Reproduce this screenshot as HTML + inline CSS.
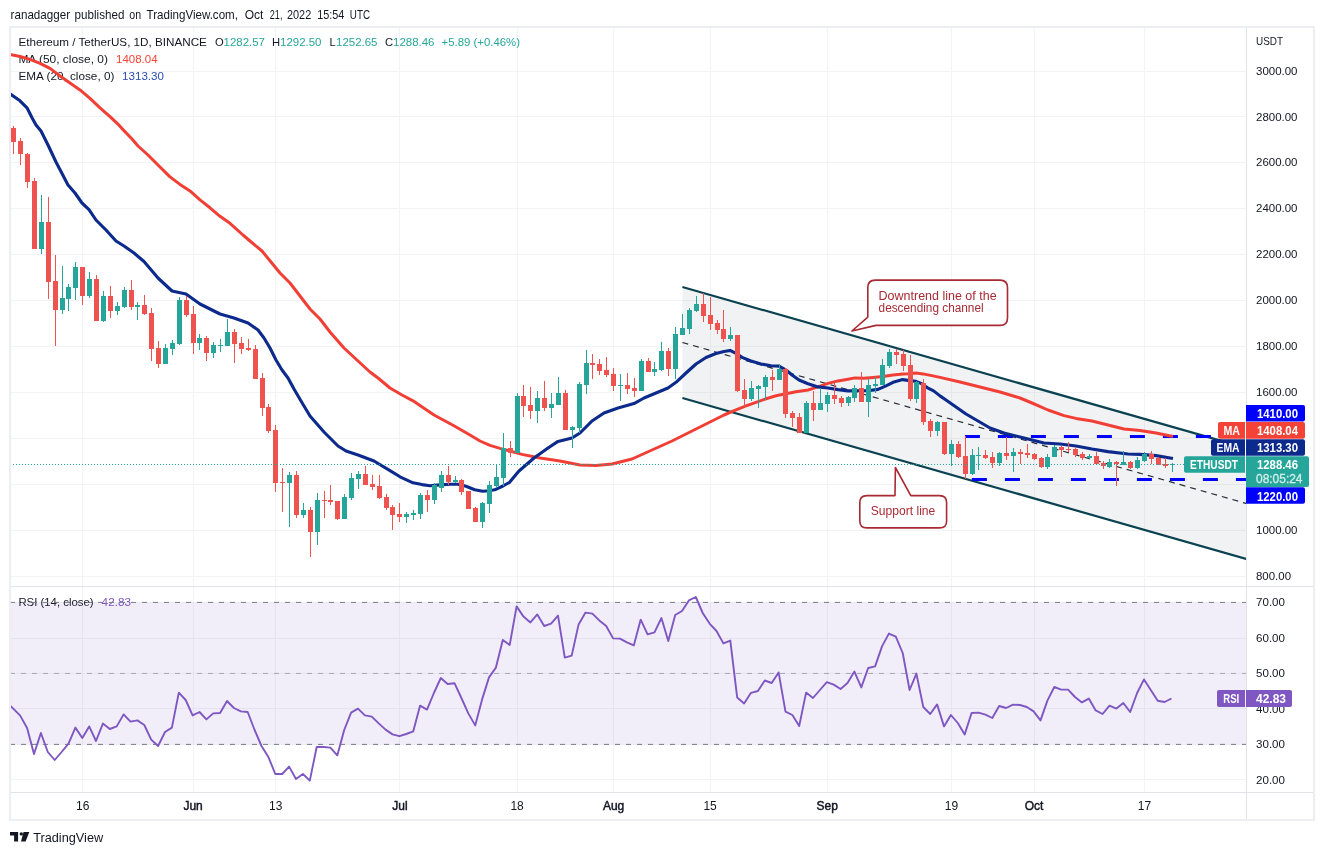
<!DOCTYPE html><html><head><meta charset="utf-8"><title>ETHUSDT chart</title><style>html,body{margin:0;padding:0;background:#fff}svg{display:block}</style></head><body><svg width="1324" height="855" viewBox="0 0 1324 855" font-family='"Liberation Sans", sans-serif' font-size="12" fill="#131722">
<rect width="1324" height="855" fill="#fff"/>
<text y="19" font-size="13" fill="#131722"><tspan x="10.6" textLength="59.5" lengthAdjust="spacingAndGlyphs">ranadagger</tspan> <tspan x="74.6" textLength="49.8" lengthAdjust="spacingAndGlyphs">published</tspan> <tspan x="129.3" textLength="11.8" lengthAdjust="spacingAndGlyphs">on</tspan> <tspan x="146.5" textLength="91.5" lengthAdjust="spacingAndGlyphs">TradingView.com,</tspan> <tspan x="244.7" textLength="18.7" lengthAdjust="spacingAndGlyphs">Oct</tspan> <tspan x="269.8" textLength="12.6" lengthAdjust="spacingAndGlyphs">21,</tspan> <tspan x="287" textLength="24.2" lengthAdjust="spacingAndGlyphs">2022</tspan> <tspan x="317.2" textLength="27.2" lengthAdjust="spacingAndGlyphs">15:54</tspan> <tspan x="349.8" textLength="20.2" lengthAdjust="spacingAndGlyphs">UTC</tspan></text>
<path d="M82.5 26V792M193.5 26V792M275.5 26V792M399.5 26V792M517.5 26V792M613.5 26V792M710.5 26V792M827.5 26V792M951.5 26V792M1034.5 26V792M1144.5 26V792M10 576.5H1247M10 530.5H1247M10 484.5H1247M10 438.5H1247M10 392.5H1247M10 346.5H1247M10 300.5H1247M10 254.5H1247M10 208.5H1247M10 162.5H1247M10 116.5H1247M10 71.5H1247M10 602.5H1247M10 638.5H1247M10 673.5H1247M10 708.5H1247M10 744.5H1247M10 779.5H1247" stroke="#f1f3f5" stroke-width="1" fill="none"/>
<text x="18.4" y="45.6" font-size="11.2" fill="#131722" textLength="188.5" lengthAdjust="spacingAndGlyphs" >Ethereum / TetherUS, 1D, BINANCE</text>
<text x="215" y="45.6" font-size="11.2" fill="#131722" >O</text>
<text x="223.5" y="45.6" font-size="11.2" fill="#26a69a" textLength="41.5" lengthAdjust="spacingAndGlyphs" >1282.57</text>
<text x="272" y="45.6" font-size="11.2" fill="#131722" >H</text>
<text x="280" y="45.6" font-size="11.2" fill="#26a69a" textLength="41.5" lengthAdjust="spacingAndGlyphs" >1292.50</text>
<text x="329.5" y="45.6" font-size="11.2" fill="#131722" >L</text>
<text x="336" y="45.6" font-size="11.2" fill="#26a69a" textLength="41.5" lengthAdjust="spacingAndGlyphs" >1252.65</text>
<text x="385" y="45.6" font-size="11.2" fill="#131722" >C</text>
<text x="393" y="45.6" font-size="11.2" fill="#26a69a" textLength="41.5" lengthAdjust="spacingAndGlyphs" >1288.46</text>
<text x="441.5" y="45.6" font-size="11.2" fill="#26a69a" textLength="78.5" lengthAdjust="spacingAndGlyphs" >+5.89 (+0.46%)</text>
<text x="18.4" y="62.6" font-size="11.2" fill="#131722" textLength="89.6" lengthAdjust="spacingAndGlyphs" >MA (50, close, 0)</text>
<text x="116" y="62.6" font-size="11.2" fill="#f44336" textLength="41.6" lengthAdjust="spacingAndGlyphs" >1408.04</text>
<text x="18.4" y="79.6" font-size="11.2" fill="#131722" textLength="96" lengthAdjust="spacingAndGlyphs" >EMA (20, close, 0)</text>
<text x="122" y="79.6" font-size="11.2" fill="#2a4db0" textLength="42" lengthAdjust="spacingAndGlyphs" >1313.30</text>
<text x="18.4" y="605.6" font-size="11.2" fill="#131722" textLength="75.2" lengthAdjust="spacingAndGlyphs" >RSI (14, close)</text>
<text x="101.6" y="605.6" font-size="11.2" fill="#7e57c2" textLength="29.4" lengthAdjust="spacingAndGlyphs" >42.83</text>
<clipPath id="mc"><rect x="10" y="26" width="1237" height="560"/></clipPath>
<g clip-path="url(#mc)">
<polygon points="682.4,287 1247,448.2 1247,559.2 682.4,398" fill="rgba(120,130,150,0.10)"/>
<path d="M682.4 287L1247 448.2M682.4 398L1247 559.2" stroke="#0b4250" stroke-width="2.2" fill="none"/>
<path d="M682.4 342.5L1247 503.7" stroke="#2a2e39" stroke-width="1.2" stroke-dasharray="6 5" fill="none"/>
<path d="M964.9 436.4H1247" stroke="#0000ff" stroke-width="3" stroke-dasharray="15 18" fill="none"/>
<path d="M971.9 479.6H1247" stroke="#0000ff" stroke-width="3" stroke-dasharray="15 18" fill="none"/>
<path d="M10.0 54.5L20.0 56.5L30.0 59.4L40.0 63.4L50.0 68.4L60.0 75.9L70.0 82.9L80.0 89.9L90.0 98.3L100.0 107.8L110.0 116.6L119.0 125.2L122.0 128.6L132.0 139.0L138.0 146.0L148.0 155.0L160.0 167.0L170.0 176.9L180.0 184.4L190.0 190.9L200.0 199.9L210.0 207.8L220.0 216.3L230.0 223.3L243.0 235.0L250.0 241.0L262.0 251.0L280.0 273.0L290.0 283.0L310.0 309.0L320.0 319.0L330.0 332.0L344.0 348.0L358.0 361.0L370.0 372.0L378.0 378.0L390.0 388.0L402.0 395.0L413.0 400.8L434.0 415.0L453.0 425.2L470.0 435.0L480.0 441.0L490.0 445.4L500.0 448.4L510.0 451.0L522.0 454.4L540.0 458.0L560.0 461.0L580.0 465.0L596.0 465.6L612.0 464.0L632.0 459.0L652.0 450.0L672.0 441.0L692.0 431.0L712.0 421.0L724.0 415.0L736.0 409.8L746.0 405.8L756.0 402.3L766.0 398.8L776.0 395.8L786.0 393.8L796.0 391.8L808.0 390.0L818.0 386.9L828.0 383.4L838.0 380.9L848.0 379.2L855.0 377.9L864.0 378.2L873.0 377.4L883.0 376.4L893.0 374.9L903.0 373.9L908.0 373.7L916.0 372.9L923.0 373.9L933.0 375.9L940.0 377.4L960.0 382.0L980.0 387.0L1000.0 392.0L1020.0 398.0L1032.0 403.0L1048.0 410.0L1064.0 415.6L1076.0 418.4L1092.0 421.0L1108.0 425.0L1124.0 429.0L1140.0 430.4L1156.0 433.0L1173.0 436.5" stroke="#f23f36" stroke-width="3" fill="none" stroke-linejoin="round" stroke-linecap="butt"/>
<path d="M10.0 93.8L20.0 100.8L27.0 107.8L32.0 117.8L36.0 125.0L41.0 131.0L48.0 145.0L56.0 162.0L68.0 185.0L75.0 193.0L82.0 203.0L89.0 209.6L96.0 220.0L106.0 230.0L116.0 241.0L124.0 246.0L134.0 253.0L144.0 261.5L158.0 278.0L172.0 291.0L186.0 294.0L200.0 304.0L220.0 314.0L234.0 318.0L248.0 323.0L258.0 330.0L264.0 338.0L270.0 348.0L276.0 360.0L282.0 370.0L288.0 378.0L294.0 389.0L301.0 401.0L310.0 416.0L324.0 432.0L338.0 446.0L346.0 451.0L358.0 455.0L374.0 461.0L390.0 470.6L400.0 476.8L413.0 482.8L422.0 484.6L430.0 485.8L440.0 484.9L450.0 484.3L458.0 484.3L466.0 486.3L474.7 489.8L482.7 491.3L489.0 490.8L494.7 489.8L503.0 486.0L509.6 482.3L515.6 474.9L519.0 471.0L534.0 458.0L548.0 448.0L558.0 441.4L572.0 438.0L580.0 433.0L592.0 421.0L604.0 413.0L618.0 408.0L634.0 403.6L644.0 398.0L656.0 393.0L668.0 388.0L676.0 382.3L686.0 373.0L696.0 364.0L706.0 357.5L716.0 353.5L724.0 351.5L730.0 350.4L736.0 353.4L742.0 357.4L751.0 361.0L761.0 364.0L771.0 365.7L779.0 366.1L786.0 370.0L792.0 375.0L799.0 380.0L808.0 383.7L818.0 386.9L828.0 388.0L838.0 389.6L848.0 390.9L858.0 390.7L868.0 390.7L878.0 389.4L886.0 385.9L894.0 381.9L902.7 379.6L908.0 380.4L916.0 381.4L921.0 383.4L927.6 387.9L933.6 390.9L940.0 395.9L946.0 400.0L956.0 407.0L966.0 414.0L978.0 421.0L990.0 428.0L1004.0 433.0L1020.0 437.0L1032.0 440.0L1044.0 443.0L1060.0 444.0L1076.0 446.0L1092.0 449.0L1108.0 451.6L1128.0 454.0L1140.0 454.4L1156.0 455.6L1173.0 458.5" stroke="#0c2a8c" stroke-width="3.1" fill="none" stroke-linejoin="round" stroke-linecap="butt"/>
<path d="M13 126h1v28h-1zM11 128h5v14h-5zM20 138h1v27h-1zM18 141h5v13h-5zM27 153h1v35h-1zM25 154h5v28h-5zM34 178h1v71h-1zM32 181h5v68h-5zM48 197h1v102h-1zM46 222h5v60h-5zM55 255h1v91h-1zM53 281h5v29h-5zM82 267h1v38h-1zM80 267h5v29h-5zM96 275h1v46h-1zM94 279h5v42h-5zM110 286h1v32h-1zM108 296h5v15h-5zM131 280h1v30h-1zM129 290h5v17h-5zM144 295h1v20h-1zM142 305h5v9h-5zM151 308h1v53h-1zM149 313h5v36h-5zM158 341h1v27h-1zM156 348h5v16h-5zM186 296h1v21h-1zM184 300h5v15h-5zM193 306h1v48h-1zM191 314h5v29h-5zM206 336h1v25h-1zM204 338h5v15h-5zM234 329h1v34h-1zM232 332h5v12h-5zM241 337h1v17h-1zM239 343h5v6h-5zM248 339h1v12h-1zM246 348h5v2h-5zM255 345h1v34h-1zM253 349h5v30h-5zM262 373h1v43h-1zM260 378h5v30h-5zM268 404h1v29h-1zM266 407h5v24h-5zM275 425h1v67h-1zM273 430h5v53h-5zM282 468h1v44h-1zM280 482h5v1h-5zM296 471h1v47h-1zM294 475h5v40h-5zM310 507h1v50h-1zM308 510h5v22h-5zM324 491h1v27h-1zM322 500h5v1h-5zM330 485h1v20h-1zM328 500h5v2h-5zM337 501h1v19h-1zM335 501h5v18h-5zM365 466h1v19h-1zM363 474h5v11h-5zM372 475h1v15h-1zM370 484h5v3h-5zM379 475h1v24h-1zM377 486h5v12h-5zM386 494h1v16h-1zM384 497h5v11h-5zM392 505h1v25h-1zM390 507h5v8h-5zM399 503h1v19h-1zM397 514h5v3h-5zM427 490h1v22h-1zM425 495h5v5h-5zM448 466h1v19h-1zM446 475h5v7h-5zM461 479h1v16h-1zM459 480h5v12h-5zM468 491h1v18h-1zM466 491h5v18h-5zM475 507h1v15h-1zM473 508h5v14h-5zM510 441h1v16h-1zM508 448h5v5h-5zM523 385h1v32h-1zM521 396h5v10h-5zM530 387h1v32h-1zM528 405h5v6h-5zM544 381h1v30h-1zM542 398h5v10h-5zM565 390h1v40h-1zM563 393h5v37h-5zM592 354h1v25h-1zM590 363h5v2h-5zM599 359h1v16h-1zM597 364h5v7h-5zM606 357h1v20h-1zM604 370h5v5h-5zM613 368h1v23h-1zM611 374h5v12h-5zM627 373h1v21h-1zM625 385h5v4h-5zM634 378h1v19h-1zM632 388h5v3h-5zM648 358h1v14h-1zM646 361h5v11h-5zM668 348h1v28h-1zM666 351h5v18h-5zM703 293h1v29h-1zM701 304h5v12h-5zM710 297h1v33h-1zM708 315h5v9h-5zM717 320h1v14h-1zM715 323h5v7h-5zM723 310h1v32h-1zM721 329h5v10h-5zM737 335h1v57h-1zM735 335h5v56h-5zM744 379h1v28h-1zM742 390h5v9h-5zM772 370h1v21h-1zM770 377h5v3h-5zM785 368h1v50h-1zM783 369h5v45h-5zM792 411h1v16h-1zM790 413h5v5h-5zM799 413h1v20h-1zM797 417h5v16h-5zM813 391h1v30h-1zM811 403h5v7h-5zM834 383h1v21h-1zM832 395h5v4h-5zM841 396h1v11h-1zM839 398h5v5h-5zM861 372h1v30h-1zM859 388h5v14h-5zM896 349h1v15h-1zM894 352h5v3h-5zM903 350h1v21h-1zM901 354h5v12h-5zM910 355h1v46h-1zM908 365h5v34h-5zM923 379h1v46h-1zM921 383h5v39h-5zM930 419h1v18h-1zM928 421h5v10h-5zM944 422h1v33h-1zM942 422h5v32h-5zM958 441h1v17h-1zM956 444h5v13h-5zM965 436h1v43h-1zM963 456h5v18h-5zM985 450h1v9h-1zM983 455h5v3h-5zM992 452h1v16h-1zM990 457h5v6h-5zM1006 437h1v23h-1zM1004 453h5v3h-5zM1020 449h1v15h-1zM1018 452h5v2h-5zM1027 444h1v14h-1zM1025 453h5v2h-5zM1034 453h1v7h-1zM1032 454h5v5h-5zM1041 457h1v11h-1zM1039 458h5v9h-5zM1061 446h1v11h-1zM1059 447h5v3h-5zM1068 442h1v10h-1zM1066 449h5v1h-5zM1075 447h1v10h-1zM1073 449h5v6h-5zM1082 452h1v8h-1zM1080 454h5v4h-5zM1096 452h1v12h-1zM1094 456h5v8h-5zM1103 461h1v8h-1zM1101 463h5v3h-5zM1116 461h1v25h-1zM1114 462h5v2h-5zM1130 461h1v8h-1zM1128 462h5v6h-5zM1151 451h1v13h-1zM1149 454h5v5h-5zM1158 457h1v8h-1zM1156 458h5v7h-5zM1165 458h1v10h-1zM1163 464h5v2h-5z" fill="#ef5350"/>
<path d="M41 195h1v59h-1zM39 222h5v27h-5zM62 266h1v48h-1zM60 298h5v12h-5zM68 284h1v27h-1zM66 287h5v12h-5zM75 262h1v38h-1zM73 267h5v21h-5zM89 272h1v26h-1zM87 279h5v17h-5zM103 291h1v31h-1zM101 296h5v25h-5zM117 302h1v13h-1zM115 306h5v5h-5zM124 287h1v21h-1zM122 290h5v17h-5zM137 302h1v18h-1zM135 305h5v2h-5zM165 344h1v20h-1zM163 348h5v16h-5zM172 340h1v15h-1zM170 343h5v6h-5zM179 297h1v48h-1zM177 300h5v44h-5zM199 334h1v16h-1zM197 338h5v5h-5zM213 342h1v16h-1zM211 345h5v8h-5zM220 339h1v13h-1zM218 345h5v1h-5zM227 319h1v27h-1zM225 332h5v14h-5zM289 472h1v55h-1zM287 475h5v8h-5zM303 503h1v15h-1zM301 510h5v5h-5zM317 493h1v52h-1zM315 500h5v32h-5zM344 494h1v25h-1zM342 497h5v22h-5zM351 473h1v27h-1zM349 478h5v20h-5zM358 471h1v18h-1zM356 474h5v5h-5zM406 512h1v11h-1zM404 514h5v3h-5zM413 510h1v10h-1zM411 513h5v2h-5zM420 493h1v26h-1zM418 495h5v19h-5zM434 483h1v21h-1zM432 485h5v15h-5zM441 471h1v21h-1zM439 475h5v13h-5zM455 476h1v7h-1zM453 480h5v2h-5zM482 502h1v26h-1zM480 503h5v19h-5zM489 481h1v32h-1zM487 485h5v19h-5zM496 464h1v24h-1zM494 477h5v9h-5zM503 433h1v53h-1zM501 448h5v30h-5zM517 393h1v60h-1zM515 396h5v57h-5zM537 391h1v32h-1zM535 398h5v13h-5zM551 393h1v25h-1zM549 404h5v4h-5zM558 377h1v28h-1zM556 393h5v12h-5zM572 426h1v22h-1zM570 427h5v3h-5zM579 382h1v51h-1zM577 384h5v44h-5zM586 350h1v44h-1zM584 363h5v22h-5zM620 374h1v27h-1zM618 385h5v1h-5zM641 359h1v32h-1zM639 361h5v30h-5zM654 362h1v14h-1zM652 369h5v3h-5zM661 342h1v29h-1zM659 351h5v19h-5zM675 327h1v52h-1zM673 334h5v35h-5zM682 314h1v21h-1zM680 328h5v7h-5zM689 308h1v26h-1zM687 310h5v19h-5zM696 296h1v16h-1zM694 304h5v7h-5zM730 327h1v14h-1zM728 335h5v4h-5zM751 381h1v20h-1zM749 388h5v11h-5zM758 385h1v23h-1zM756 386h5v3h-5zM765 375h1v25h-1zM763 377h5v10h-5zM779 364h1v16h-1zM777 369h5v11h-5zM806 401h1v32h-1zM804 403h5v30h-5zM820 388h1v22h-1zM818 403h5v7h-5zM827 392h1v20h-1zM825 395h5v9h-5zM848 396h1v10h-1zM846 397h5v6h-5zM854 385h1v17h-1zM852 388h5v10h-5zM868 379h1v38h-1zM866 385h5v17h-5zM875 377h1v16h-1zM873 384h5v2h-5zM882 359h1v26h-1zM880 365h5v20h-5zM889 349h1v19h-1zM887 352h5v14h-5zM916 381h1v22h-1zM914 382h5v17h-5zM937 421h1v15h-1zM935 422h5v9h-5zM951 440h1v26h-1zM949 444h5v10h-5zM972 449h1v26h-1zM970 455h5v19h-5zM978 447h1v23h-1zM976 455h5v1h-5zM999 452h1v14h-1zM997 453h5v10h-5zM1013 448h1v24h-1zM1011 452h5v4h-5zM1047 454h1v15h-1zM1045 457h5v10h-5zM1054 445h1v12h-1zM1052 447h5v10h-5zM1089 454h1v5h-1zM1087 456h5v2h-5zM1109 459h1v9h-1zM1107 462h5v5h-5zM1123 451h1v14h-1zM1121 462h5v3h-5zM1137 457h1v12h-1zM1135 460h5v8h-5zM1144 452h1v10h-1zM1142 454h5v7h-5zM1172 463h1v9h-1zM1170 464h5v1h-5z" fill="#26a69a"/>
<path d="M10 464.5H1184" stroke="#26a69a" stroke-width="1" stroke-dasharray="1 2" fill="none"/>
<path d="M875.3 280.1H1000.0Q1007.5 280.1 1007.5 287.6V317.9Q1007.5 325.4 1000.0 325.4H876L851.9 331L867.8 317.1V287.6Q867.8 280.1 875.3 280.1Z" fill="#fff" stroke="#a82a33" stroke-width="1.6" stroke-linejoin="round"/>
<text x="878.6" y="300" font-size="12" fill="#a82a33" textLength="118" lengthAdjust="spacingAndGlyphs" >Downtrend line of the</text>
<text x="878.6" y="311.5" font-size="12" fill="#a82a33" textLength="105" lengthAdjust="spacingAndGlyphs" >descending channel</text>
<path d="M866.8 495.6H895L895.4 467.5L910.8 495.6H939.6Q946.6 495.6 946.6 502.6V520.9Q946.6 527.9 939.6 527.9H866.8Q859.8 527.9 859.8 520.9V502.6Q859.8 495.6 866.8 495.6Z" fill="#fff" stroke="#a82a33" stroke-width="1.6" stroke-linejoin="round"/>
<text x="870.8" y="514.5" font-size="12" fill="#a82a33" textLength="64.5" lengthAdjust="spacingAndGlyphs" >Support line</text>
</g>
<rect x="10" y="602.4" width="1237" height="142.0" fill="rgba(126,87,194,0.10)"/>
<path d="M10 602.4H1247M10 744.4H1247" stroke="#787b86" stroke-width="1" stroke-dasharray="5 6" fill="none"/>
<path d="M10 673.4H1247" stroke="#787b86" stroke-opacity="0.6" stroke-width="1" stroke-dasharray="5 6" fill="none"/>
<path d="M10.4 706.0L13.3 708.6L20.2 715.6L27.1 728.0L34.0 754.0L40.9 733.0L47.8 752.0L54.7 760.0L61.6 752.0L68.5 743.6L75.4 727.6L82.3 738.0L89.2 726.4L96.0 741.0L102.9 723.6L109.8 729.0L116.7 726.4L123.6 714.4L130.5 721.6L137.4 720.4L144.3 725.0L151.2 739.6L158.1 746.0L165.0 732.0L171.9 727.6L178.8 692.6L185.7 700.0L192.6 715.4L199.5 712.0L206.4 719.4L213.2 713.4L220.1 713.0L227.0 701.0L233.9 708.0L240.8 711.4L247.7 712.0L254.6 730.0L261.5 746.0L268.4 757.0L275.3 774.0L282.2 774.0L289.1 766.6L296.0 779.0L302.9 774.0L309.8 780.6L316.7 747.0L323.6 747.0L330.4 747.6L337.3 755.4L344.2 730.0L351.1 712.6L358.0 708.6L364.9 715.4L371.8 716.6L378.7 723.4L385.6 729.6L392.5 734.4L399.4 736.2L406.3 734.0L413.2 731.4L420.1 705.6L427.0 709.6L433.9 693.0L440.8 678.0L447.6 684.0L454.5 683.2L461.4 698.0L468.3 713.4L475.2 725.4L482.1 699.4L489.0 677.4L495.9 667.6L502.8 640.0L509.7 645.0L516.6 606.4L523.5 616.6L530.4 622.4L537.3 614.4L544.2 626.0L551.1 623.6L558.0 615.6L564.8 657.6L571.7 655.6L578.6 624.4L585.5 612.6L592.4 613.6L599.3 620.4L606.2 626.0L613.1 638.4L620.0 638.6L626.9 642.4L633.8 645.4L640.7 619.6L647.6 634.4L654.5 632.4L661.4 618.0L668.3 641.0L675.2 615.0L682.0 611.0L688.9 600.4L695.8 597.0L702.7 613.0L709.6 623.6L716.5 631.0L723.4 643.4L730.3 640.6L737.2 697.6L744.1 703.4L751.0 692.8L757.9 691.0L764.8 680.5L771.7 683.0L778.6 672.4L785.5 711.6L792.4 715.0L799.2 726.0L806.1 692.6L813.0 698.0L819.9 690.0L826.8 682.2L833.7 684.6L840.6 689.0L847.5 683.0L854.4 671.6L861.3 687.4L868.2 668.0L875.1 666.4L882.0 646.4L888.9 633.6L895.8 636.6L902.7 653.0L909.6 690.0L916.4 673.6L923.3 707.0L930.2 714.0L937.1 704.4L944.0 726.4L950.9 715.0L957.8 723.0L964.7 734.4L971.6 713.0L978.5 712.6L985.4 714.6L992.3 718.0L999.2 706.0L1006.1 708.0L1013.0 704.6L1019.9 705.0L1026.8 707.0L1033.6 711.4L1040.5 720.4L1047.4 700.6L1054.3 687.0L1061.2 689.6L1068.1 689.6L1075.0 697.0L1081.9 702.4L1088.8 698.6L1095.7 710.4L1102.6 714.0L1109.5 705.6L1116.4 708.6L1123.3 703.0L1130.2 712.0L1137.1 693.0L1144.0 679.4L1150.8 690.0L1157.7 700.8L1164.6 702.0L1171.5 698.5" stroke="#7e57c2" stroke-width="1.9" fill="none" stroke-linejoin="round"/>
<path d="M10 586.5H1314M10 792.5H1314M1246.5 26V820" stroke="#e1e3e8" stroke-width="1" fill="none"/>
<rect x="10" y="27" width="1304" height="793" fill="none" stroke="#eceef4" stroke-width="2"/>
<text x="1256" y="45" font-size="11.6" fill="#131722" textLength="27" lengthAdjust="spacingAndGlyphs" >USDT</text>
<text x="1256" y="580.006" font-size="11.6" fill="#131722" textLength="35" lengthAdjust="spacingAndGlyphs" >800.00</text>
<text x="1256" y="534.0600000000001" font-size="11.6" fill="#131722" textLength="41.5" lengthAdjust="spacingAndGlyphs" >1000.00</text>
<text x="1256" y="396.222" font-size="11.6" fill="#131722" textLength="41.5" lengthAdjust="spacingAndGlyphs" >1600.00</text>
<text x="1256" y="350.276" font-size="11.6" fill="#131722" textLength="41.5" lengthAdjust="spacingAndGlyphs" >1800.00</text>
<text x="1256" y="304.33000000000004" font-size="11.6" fill="#131722" textLength="41.5" lengthAdjust="spacingAndGlyphs" >2000.00</text>
<text x="1256" y="258.384" font-size="11.6" fill="#131722" textLength="41.5" lengthAdjust="spacingAndGlyphs" >2200.00</text>
<text x="1256" y="212.438" font-size="11.6" fill="#131722" textLength="41.5" lengthAdjust="spacingAndGlyphs" >2400.00</text>
<text x="1256" y="166.492" font-size="11.6" fill="#131722" textLength="41.5" lengthAdjust="spacingAndGlyphs" >2600.00</text>
<text x="1256" y="120.54599999999999" font-size="11.6" fill="#131722" textLength="41.5" lengthAdjust="spacingAndGlyphs" >2800.00</text>
<text x="1256" y="74.6" font-size="11.6" fill="#131722" textLength="41.5" lengthAdjust="spacingAndGlyphs" >3000.00</text>
<text x="1256" y="783.5" font-size="11.6" fill="#131722" textLength="29" lengthAdjust="spacingAndGlyphs" >20.00</text>
<text x="1256" y="748.0" font-size="11.6" fill="#131722" textLength="29" lengthAdjust="spacingAndGlyphs" >30.00</text>
<text x="1256" y="712.5" font-size="11.6" fill="#131722" textLength="29" lengthAdjust="spacingAndGlyphs" >40.00</text>
<text x="1256" y="677.0" font-size="11.6" fill="#131722" textLength="29" lengthAdjust="spacingAndGlyphs" >50.00</text>
<text x="1256" y="641.5" font-size="11.6" fill="#131722" textLength="29" lengthAdjust="spacingAndGlyphs" >60.00</text>
<text x="1256" y="606.0" font-size="11.6" fill="#131722" textLength="29" lengthAdjust="spacingAndGlyphs" >70.00</text>
<text x="82.8" y="810" font-size="12" fill="#131722" text-anchor="middle" >16</text>
<text x="193.1" y="810" font-size="12" fill="#131722" text-anchor="middle" stroke="#131722" stroke-width="0.45">Jun</text>
<text x="275.8" y="810" font-size="12" fill="#131722" text-anchor="middle" >13</text>
<text x="399.9" y="810" font-size="12" fill="#131722" text-anchor="middle" stroke="#131722" stroke-width="0.45">Jul</text>
<text x="517.1" y="810" font-size="12" fill="#131722" text-anchor="middle" >18</text>
<text x="613.6" y="810" font-size="12" fill="#131722" text-anchor="middle" stroke="#131722" stroke-width="0.45">Aug</text>
<text x="710.1" y="810" font-size="12" fill="#131722" text-anchor="middle" >15</text>
<text x="827.3" y="810" font-size="12" fill="#131722" text-anchor="middle" stroke="#131722" stroke-width="0.45">Sep</text>
<text x="951.4" y="810" font-size="12" fill="#131722" text-anchor="middle" >19</text>
<text x="1034.1" y="810" font-size="12" fill="#131722" text-anchor="middle" stroke="#131722" stroke-width="0.45">Oct</text>
<text x="1144.5" y="810" font-size="12" fill="#131722" text-anchor="middle" >17</text>
<rect x="1245" y="422" width="1" height="51" fill="#fff"/>
<path d="M1246 405H1303Q1305 405 1305 407V419.6Q1305 421.6 1303 421.6H1246Z" fill="#0000ff"/>
<text x="1257" y="418" font-size="12" fill="#fff" font-weight="bold" textLength="41" lengthAdjust="spacingAndGlyphs" >1410.00</text>
<path d="M1245 422H1220Q1218 422 1218 424V436.8Q1218 438.8 1220 438.8H1245Z" fill="#f44336"/>
<text x="1223.5" y="435" font-size="12" fill="#fff" font-weight="bold" textLength="16.5" lengthAdjust="spacingAndGlyphs" >MA</text>
<path d="M1246 422H1303Q1305 422 1305 424V436.8Q1305 438.8 1303 438.8H1246Z" fill="#f44336"/>
<text x="1257" y="435" font-size="12" fill="#fff" font-weight="bold" textLength="41" lengthAdjust="spacingAndGlyphs" >1408.04</text>
<path d="M1245 439.3H1213Q1211 439.3 1211 441.3V453.8Q1211 455.8 1213 455.8H1245Z" fill="#0c2a8c"/>
<text x="1216.5" y="452" font-size="12" fill="#fff" font-weight="bold" textLength="23" lengthAdjust="spacingAndGlyphs" >EMA</text>
<path d="M1246 439.3H1303Q1305 439.3 1305 441.3V453.8Q1305 455.8 1303 455.8H1246Z" fill="#0c2a8c"/>
<text x="1257" y="452" font-size="12" fill="#fff" font-weight="bold" textLength="41" lengthAdjust="spacingAndGlyphs" >1313.30</text>
<path d="M1245 456.2H1186Q1184 456.2 1184 458.2V470.8Q1184 472.8 1186 472.8H1245Z" fill="#26a69a"/>
<text x="1190" y="469" font-size="12" fill="#fff" font-weight="bold" textLength="48" lengthAdjust="spacingAndGlyphs" >ETHUSDT</text>
<path d="M1246 456.2H1307Q1309 456.2 1309 458.2V485Q1309 487 1307 487H1246Z" fill="#26a69a"/>
<text x="1257" y="469" font-size="12" fill="#fff" font-weight="bold" textLength="41" lengthAdjust="spacingAndGlyphs" >1288.46</text>
<text x="1256" y="483" font-size="12" fill="#d4edea" textLength="46.5" lengthAdjust="spacingAndGlyphs" stroke="#d4edea" stroke-width="0.3">08:05:24</text>
<path d="M1246 487.3H1303Q1305 487.3 1305 489.3V501.8Q1305 503.8 1303 503.8H1246Z" fill="#0000ff"/>
<text x="1257" y="500.5" font-size="12" fill="#fff" font-weight="bold" textLength="41" lengthAdjust="spacingAndGlyphs" >1220.00</text>
<path d="M1245 690H1219Q1217 690 1217 692V705Q1217 707 1219 707H1245Z" fill="#7e57c2"/>
<text x="1223.3" y="703" font-size="12" fill="#fff" font-weight="bold" textLength="16" lengthAdjust="spacingAndGlyphs" >RSI</text>
<path d="M1246 690H1290Q1292 690 1292 692V705Q1292 707 1290 707H1246Z" fill="#7e57c2"/>
<text x="1256" y="703" font-size="12" fill="#fff" font-weight="bold" textLength="30" lengthAdjust="spacingAndGlyphs" >42.83</text>
<g fill="#131722"><path d="M10 832.1h8.1v9.5h-4v-6H10z"/><circle cx="21.3" cy="833.9" r="1.7"/><path d="M23.5 832.1h5.8l-3.7 9.5h-4.6z"/></g>
<text x="33.2" y="841.6" font-size="13" fill="#131722" textLength="70" lengthAdjust="spacingAndGlyphs" >TradingView</text>
</svg></body></html>
